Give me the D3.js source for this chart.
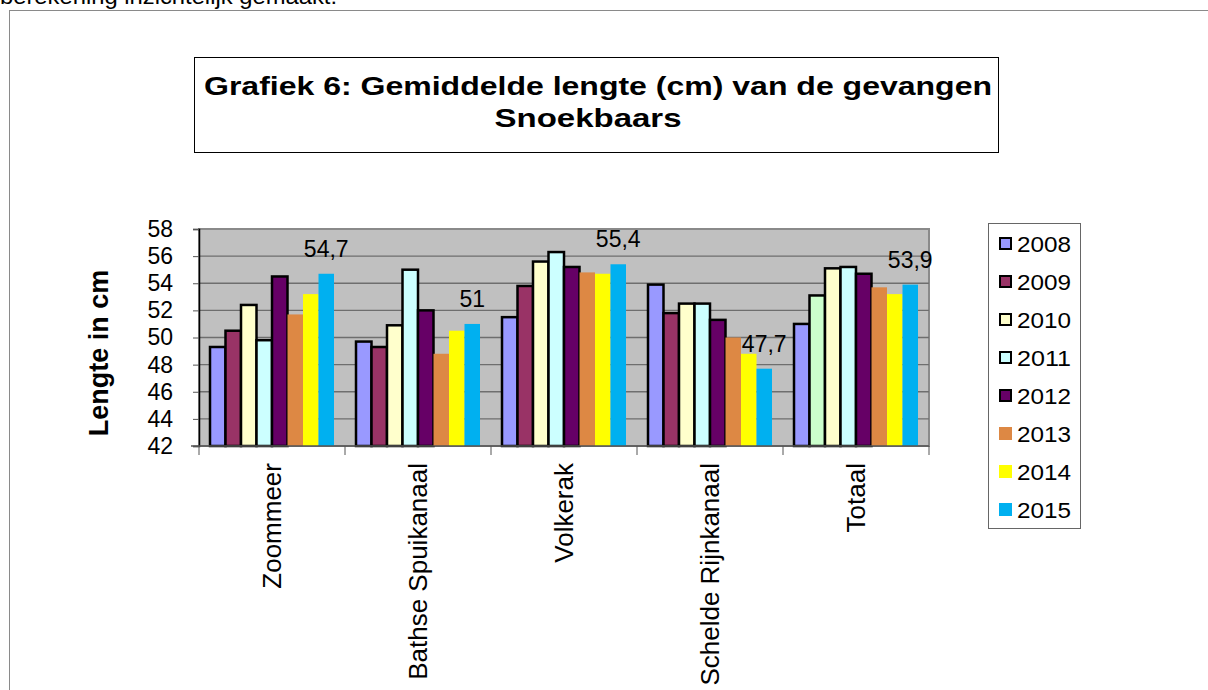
<!DOCTYPE html>
<html>
<head>
<meta charset="utf-8">
<script src="https://cdn.jsdelivr.net/npm/d3@7"></script>
<style>
  body { margin: 0; background: #fff; overflow: hidden; }
  text { font-family: "Liberation Sans", Arial, sans-serif; }
</style>
</head>
<body>
<div id="chart"></div>
<script>

/****** DATA ******/
var regions = ["Zoommeer", "Bathse Spuikanaal", "Volkerak", "Schelde Rijnkanaal", "Totaal"];
var years = ["2008", "2009", "2010", "2011", "2012", "2013", "2014", "2015"];

var y2008 = [49.3, 49.7, 51.5, 53.9, 51.0];
var y2009 = [50.5, 49.3, 53.8, 51.8, 53.1];
var y2010 = [52.4, 50.9, 55.6, 52.5, 55.1];
var y2011 = [49.8, 55.0, 56.3, 52.5, 55.2];
var y2012 = [54.5, 52.0, 55.2, 51.3, 54.7];
var y2013 = [51.7, 48.8, 54.8, 50.0, 53.7];
var y2014 = [53.2, 50.5, 54.7, 48.8, 53.2];
var y2015 = [54.7, 51.0, 55.4, 47.7, 53.9];

var yTicks = [42, 44, 46, 48, 50, 52, 54, 56, 58];

var series = [y2008, y2009, y2010, y2011, y2012, y2013, y2014, y2015];
var colors = ["#9999FF", "#993366", "#FFFFCC", "#CCFFFF", "#660066", "#DD8844", "#FFFF00", "#00B0F0"];
var outlined = [true, true, true, true, true, false, false, false];
// in the original the 2009 bar of "Totaal" is light green
var pointColors = { "1-4": "#CCFFCC" };

var width = 1208, height = 690;
var plot = {left: 199, right: 929, top: 229, bottom: 446};

var svg = d3.select("#chart")
  .append("svg")
  .attr("width", width)
  .attr("height", height);

/****** PAGE FRAME ******/
svg.append("text")
  .attr("x", 0)
  .attr("y", 4)
  .attr("textLength", 337)
  .attr("lengthAdjust", "spacingAndGlyphs")
  .style("font-size", "22px")
  .text("berekening inzichtelijk gemaakt.");

svg.append("rect")
  .attr("x", 9.5)
  .attr("y", 10.5)
  .attr("width", 1300)
  .attr("height", 800)
  .attr("fill", "none")
  .attr("stroke", "#8a8a8a");

/****** TITLE ******/
svg.append("rect")
  .attr("x", 194.5)
  .attr("y", 57.5)
  .attr("width", 804)
  .attr("height", 95)
  .attr("fill", "#fff")
  .attr("stroke", "#000");

svg.append("text")
  .attr("x", 598)
  .attr("y", 95)
  .attr("text-anchor", "middle")
  .attr("textLength", 788)
  .attr("lengthAdjust", "spacingAndGlyphs")
  .style("font-size", "26px")
  .style("font-weight", "bold")
  .text("Grafiek 6: Gemiddelde lengte (cm) van de gevangen");

svg.append("text")
  .attr("x", 588)
  .attr("y", 127)
  .attr("text-anchor", "middle")
  .attr("textLength", 187)
  .attr("lengthAdjust", "spacingAndGlyphs")
  .style("font-size", "26px")
  .style("font-weight", "bold")
  .text("Snoekbaars");

/****** SCALES ******/
var x0 = d3.scaleBand()
  .domain(regions)
  .range([plot.left, plot.right]);

var x1 = d3.scaleBand()
  .domain(years)
  .range([11, x0.bandwidth() - 11]);

var y = d3.scaleLinear()
  .domain([42, 58])
  .range([plot.bottom, plot.top]);

/****** PLOT AREA ******/
svg.append("rect")
  .attr("x", plot.left)
  .attr("y", plot.top)
  .attr("width", plot.right - plot.left)
  .attr("height", plot.bottom - plot.top)
  .attr("fill", "#C0C0C0")
  .attr("stroke", "#8a8a8a")
  .attr("stroke-width", 2);

svg.append("g")
  .selectAll("line")
  .data(yTicks.slice(1, -1))
  .enter()
  .append("line")
    .attr("x1", plot.left)
    .attr("x2", plot.right)
    .attr("y1", function(d) { return y(d); })
    .attr("y2", function(d) { return y(d); })
    .attr("stroke", "#6e6e6e")
    .attr("stroke-width", 1.3);

/****** BARS ******/
var groups = svg.append("g")
  .selectAll("g")
  .data(regions)
  .enter()
  .append("g")
    .attr("transform", function(d) { return "translate(" + x0(d) + ",0)"; });

groups.selectAll("rect")
  .data(function(r, i) {
    return series.map(function(s, k) { return {year: years[k], k: k, i: i, value: s[i]}; });
  })
  .enter()
  .append("rect")
    .attr("x", function(d) { return x1(d.year); })
    .attr("y", function(d) { return y(d.value); })
    .attr("width", x1.bandwidth())
    .attr("height", function(d) { return y(42) - y(d.value); })
    .attr("fill", function(d) { return pointColors[d.k + "-" + d.i] || colors[d.k]; })
    .attr("stroke", function(d) { return outlined[d.k] ? "#000" : "none"; })
    .attr("stroke-width", 2.5);

// value labels for the last year
groups.append("text")
  .attr("x", function(r, i) { return x1("2015") + x1.bandwidth() / 2; })
  .attr("y", function(r, i) { return y(y2015[i]) - 17; })
  .attr("text-anchor", "middle")
  .style("font-size", "23px")
  .text(function(r, i) { return String(y2015[i]).replace(".", ","); });

/****** AXES ******/
var yAxis = svg.append("g")
  .attr("transform", "translate(" + plot.left + ",0)")
  .call(d3.axisLeft(y).tickValues(yTicks).tickSize(6).tickPadding(20));
yAxis.select(".domain").attr("stroke", "#000").attr("stroke-width", 1.5);
yAxis.selectAll("line").attr("stroke", "#555");
yAxis.selectAll("text")
  .style("font-size", "23px")
  .style("font-family", "'Liberation Sans', Arial, sans-serif")
  .attr("fill", "#000");

svg.append("line")
  .attr("x1", 191)
  .attr("x2", plot.right)
  .attr("y1", plot.bottom)
  .attr("y2", plot.bottom)
  .attr("stroke", "#555")
  .attr("stroke-width", 1.5);

svg.append("g")
  .selectAll("line")
  .data(regions.concat(["end"]))
  .enter()
  .append("line")
    .attr("x1", function(d, i) { return plot.left + i * x0.bandwidth(); })
    .attr("x2", function(d, i) { return plot.left + i * x0.bandwidth(); })
    .attr("y1", plot.bottom)
    .attr("y2", plot.bottom + 9)
    .attr("stroke", "#555");

svg.append("g")
  .selectAll("text")
  .data(regions)
  .enter()
  .append("text")
    .attr("transform", function(d) {
      return "translate(" + (x0(d) + x0.bandwidth() / 2) + ",463) rotate(-90)";
    })
    .attr("dy", "0.35em")
    .attr("text-anchor", "end")
    .style("font-size", "26px")
    .text(function(d) { return d; });

svg.append("text")
  .attr("transform", "translate(99,353) rotate(-90)")
  .attr("dy", "0.35em")
  .attr("text-anchor", "middle")
  .style("font-size", "27px")
  .style("font-weight", "bold")
  .text("Lengte in cm");

/****** LEGEND ******/
svg.append("rect")
  .attr("x", 988.5)
  .attr("y", 223.5)
  .attr("width", 92)
  .attr("height", 305)
  .attr("fill", "#fff")
  .attr("stroke", "#666");

var legend = svg.append("g")
  .selectAll("g")
  .data(years)
  .enter()
  .append("g")
    .attr("transform", function(d, i) { return "translate(999," + (243.5 + i * 38) + ")"; });

legend.append("rect")
  .attr("x", function(d, i) { return outlined[i] ? 1 : 0; })
  .attr("y", function(d, i) { return outlined[i] ? -5.5 : -6.5; })
  .attr("width", function(d, i) { return outlined[i] ? 11 : 13; })
  .attr("height", function(d, i) { return outlined[i] ? 11 : 13; })
  .attr("fill", function(d, i) { return colors[i]; })
  .attr("stroke", function(d, i) { return outlined[i] ? "#000" : "none"; })
  .attr("stroke-width", 2);

legend.append("text")
  .attr("x", 18)
  .attr("y", 8)
  .attr("textLength", 54)
  .attr("lengthAdjust", "spacingAndGlyphs")
  .style("font-size", "22px")
  .text(function(d) { return d; });

</script>
</body>
</html>
